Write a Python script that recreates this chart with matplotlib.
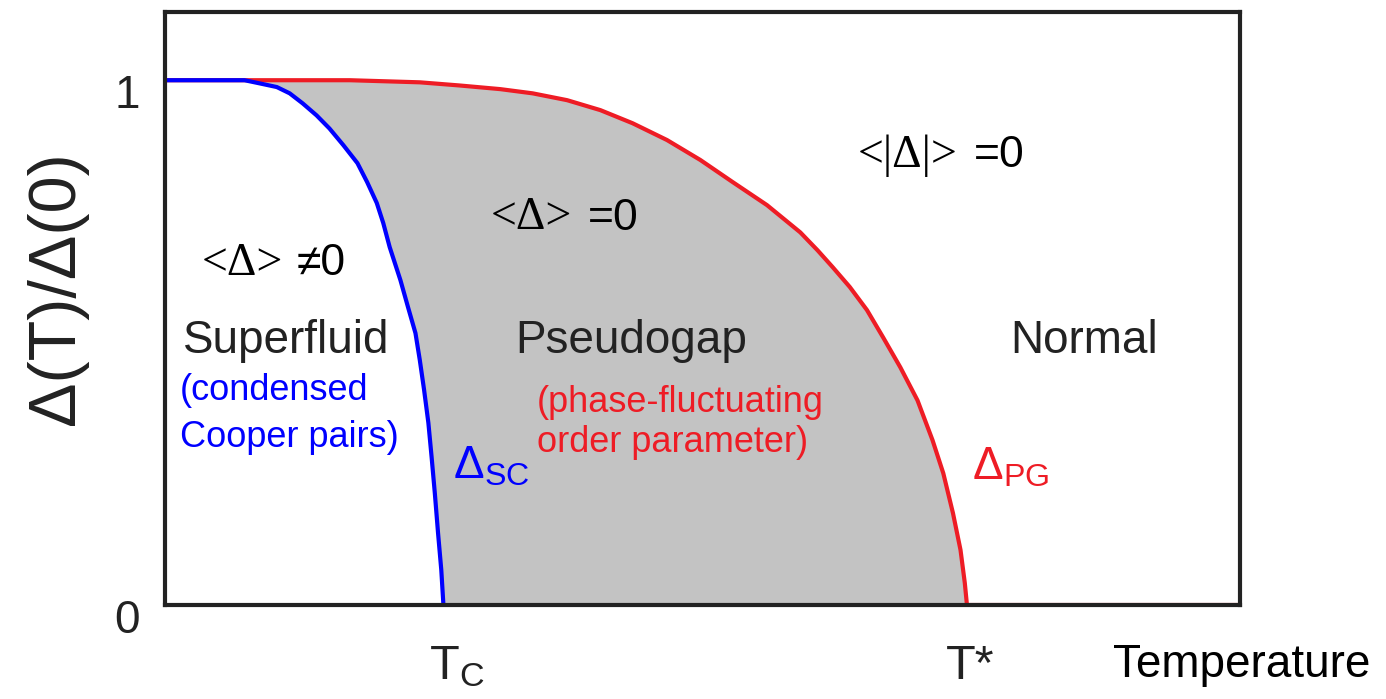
import numpy as np
import matplotlib.pyplot as plt
import matplotlib.transforms as mtransforms

plt.rcParams['font.family'] = ['Liberation Sans', 'DejaVu Sans']
plt.rcParams['mathtext.fontset'] = 'custom'
plt.rcParams['mathtext.rm'] = 'Liberation Sans'
plt.rcParams['mathtext.it'] = 'Liberation Sans:italic'

# superconducting gap Delta_SC(T)/Delta(0), T in units of the axis width
t_sc = [0.0, 0.074, 0.088, 0.104, 0.116, 0.128, 0.141, 0.153, 0.166,
        0.179, 0.188, 0.197, 0.203, 0.209, 0.219, 0.226, 0.233, 0.237,
        0.241, 0.245, 0.248, 0.251, 0.254, 0.257, 0.259]
gap_sc = [1.0, 1.0, 0.994, 0.987, 0.975, 0.956, 0.933, 0.908, 0.876,
          0.842, 0.806, 0.766, 0.728, 0.682, 0.619, 0.568, 0.518, 0.467,
          0.410, 0.347, 0.282, 0.213, 0.137, 0.067, 0.0]

# pseudogap Delta_PG(T)/Delta(0)
t_pg = [0.0, 0.172, 0.237, 0.274, 0.312, 0.342, 0.374, 0.405, 0.435,
        0.467, 0.498, 0.528, 0.560, 0.591, 0.607, 0.621, 0.637, 0.653,
        0.668, 0.684, 0.700, 0.714, 0.724, 0.733, 0.740, 0.744, 0.746, 1.0]
gap_pg = [1.0, 1.0, 0.996, 0.990, 0.983, 0.975, 0.962, 0.943, 0.918,
          0.886, 0.848, 0.806, 0.762, 0.710, 0.676, 0.644, 0.606, 0.562,
          0.510, 0.453, 0.390, 0.314, 0.251, 0.175, 0.105, 0.042, 0.0, 0.0]

T_c = 0.259
T_star = 0.746

ink = '#222222'
blue = '#0000ff'
red = '#ee1c25'

fig = plt.figure(figsize=(13.86, 6.99), dpi=100)
ax = fig.add_axes([165 / 1386, 94 / 699, 1075 / 1386, 593 / 699])
ax.set_xlim(0, 1)
ax.set_ylim(0, 1.13)

# pseudogap region between the two curves
poly_t = np.concatenate([t_pg[:-1], t_sc[::-1]])
poly_g = np.concatenate([gap_pg[:-1], gap_sc[::-1]])
ax.fill(poly_t, poly_g, color='#c3c3c3', lw=0, zorder=1)

ax.plot(t_pg, gap_pg, color=red, lw=3, zorder=3, solid_joinstyle='round')
ax.plot(t_sc, gap_sc, color=blue, lw=3, zorder=4, solid_joinstyle='round')
ax.plot([T_c, T_star], [0, 0], color='#3050a0', lw=1.5, zorder=2)

for s in ax.spines.values():
    s.set_linewidth(3)
    s.set_color(ink)
    s.set_zorder(5)

ax.set_xticks([])
ax.set_yticks([0, 1])
ax.set_yticklabels(['0', '1'])
ax.tick_params(axis='y', length=0, pad=18, labelsize=33, labelcolor=ink)
shift = mtransforms.ScaledTranslation(0, -8 / 72, fig.dpi_scale_trans)
for lab in ax.get_yticklabels():
    lab.set_transform(lab.get_transform() + shift)

ax.set_ylabel('Δ(T)/Δ(0)', fontsize=48, color=ink)
ax.yaxis.set_label_coords(-0.072, 0.535)

# order parameter statements
serif = ['Liberation Serif', 'DejaVu Serif']
ax.text(0.034, 0.651, '<Δ>', family=serif, fontsize=33, va='center')
ax.text(0.122, 0.651, '≠0', fontsize=32, va='center')
ax.text(0.303, 0.737, '<Δ>', family=serif, fontsize=33, va='center')
ax.text(0.393, 0.737, '=0', fontsize=32, va='center')
ax.text(0.644, 0.857, '<|Δ|>', family=serif, fontsize=33, va='center')
ax.text(0.752, 0.857, '=0', fontsize=32, va='center')

# phase names
ax.text(0.017, 0.48, 'Superfluid', fontsize=33, color=ink, va='baseline')
ax.text(0.326, 0.48, 'Pseudogap', fontsize=33, color=ink, va='baseline')
ax.text(0.786, 0.48, 'Normal', fontsize=33, color=ink, va='baseline')
ax.text(0.014, 0.301, '(condensed\nCooper pairs)', fontsize=26, color=blue,
        va='baseline', linespacing=1.45)
ax.text(0.346, 0.291, '(phase-fluctuating\norder parameter)', fontsize=26,
        color=red, va='baseline', linespacing=1.2)

ax.text(0.268, 0.242, r'$\Delta_{\mathrm{SC}}$', fontsize=33, color=blue, va='baseline')
ax.text(0.751, 0.240, r'$\Delta_{\mathrm{PG}}$', fontsize=33, color=red, va='baseline')

# temperature axis markers
ax.text(0.246, -0.141, r'$\mathrm{T_C}$', fontsize=35, color=ink, va='baseline')
ax.text(0.726, -0.141, 'T*', fontsize=35, color=ink, va='baseline')
ax.text(0.882, -0.137, 'Temperature', fontsize=33, color='black', va='baseline')

fig.savefig('out.png', dpi=100)
